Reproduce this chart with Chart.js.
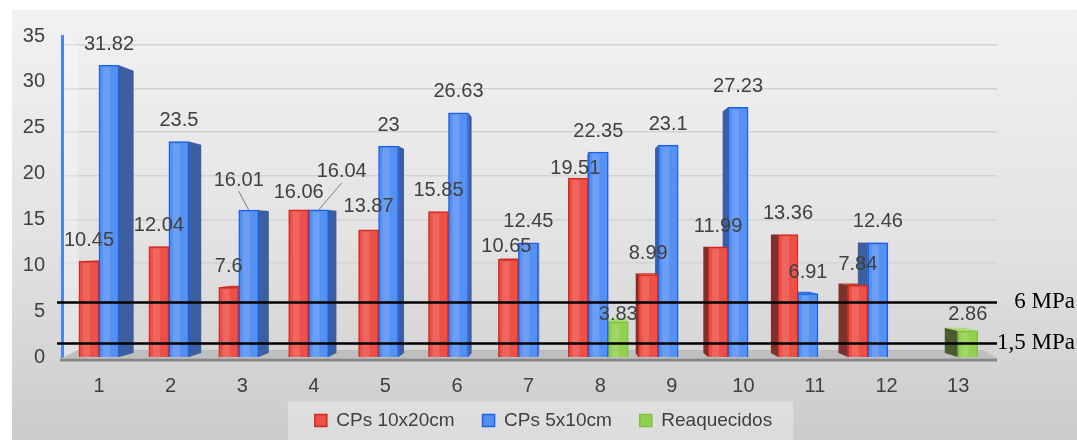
<!DOCTYPE html>
<html>
<head>
<meta charset="utf-8">
<script src="https://cdn.jsdelivr.net/npm/chart.js@4.4.1/dist/chart.umd.min.js"></script>
<style>
  html, body { margin: 0; padding: 0; background: #ffffff; }
  canvas { display: block; }
</style>
</head>
<body>
<canvas id="chart" width="1077" height="440"></canvas>
<script>
// ---- data -------------------------------------------------------------
const categories = [1, 2, 3, 4, 5, 6, 7, 8, 9, 10, 11, 12, 13];
const cps10x20 = [10.45, 12.04, 7.6, 16.06, 13.87, 15.85, 10.65, 19.51, 8.99, 11.99, 13.36, 7.84, null];
const cps5x10 = [31.82, 23.5, 16.01, 16.04, 23, 26.63, 12.45, 22.35, 23.1, 27.23, 6.91, 12.46, null];
const reaquecidos = [null, null, null, null, null, null, null, 3.83, null, null, null, null, 2.86];
const seriesNames = ['CPs 10x20cm', 'CPs 5x10cm', 'Reaquecidos'];
const yTicks = [0, 5, 10, 15, 20, 25, 30, 35];
const limitValues = [6, 1.5];
const limitLabels = ['6 MPa', '1,5 MPa'];

// ---- look & layout ------------------------------------------------------
const FONT = '"Liberation Sans", Arial, sans-serif';
const SERIF = '"Liberation Serif", "Times New Roman", serif';
const TEXT = '#404040';
const FRONT = ['#ec5046', '#5590f3', '#92d050'];
const EDGE = ['#cf2b20', '#1c60e8', '#80c040'];
const SIDE = ['#7e302b', '#3d5f9f', '#4b5c33'];
const TOP = ['#c93a30', '#3070dd', '#a9db6e'];

// bars sit on the back of the box, the category numbers on its front edge
const barAxisRange = { min: 0.328, max: 13.704 };
const tickAxisRange = { min: 0.483, max: 13.542 };
// back wall used by the grid lines and the floor
const wallRange = { min: -0.80, max: 36.03 };
// perspective: vanishing point (category, value) and bar depth
const eye = { cat: 7.5, value: 13, depth: 0.033 };

// small moves for labels that would collide
const labelNudge = {
  '0-3': { dy: 4 },
  '0-4': { dy: -2 },
  '1-2': { dx: -10, dy: -9, leader: true },
  '1-3': { dx: 23, dy: -17, leader: true },
  '0-6': { dx: -2, dy: 8 },
  '0-7': { dx: -3, dy: 11 },
  '2-7': { dy: 14 },
  '2-12': { dy: 5 }
};

Chart.defaults.font.family = FONT;
Chart.defaults.color = TEXT;

function eachBar(chart, fn) {
  chart.data.datasets.forEach((ds, di) => {
    const meta = chart.getDatasetMeta(di);
    if (meta.hidden) return;
    meta.data.forEach((bar, i) => {
      if (ds.data[i] === null || ds.data[i] === undefined) return;
      const p = bar.getProps(['x', 'y', 'base', 'width'], true);
      fn(p, di, i, ds.data[i]);
    });
  });
}

const scene3d = {
  id: 'scene3d',
  beforeDraw(chart) {
    const { ctx, width, height } = chart;
    ctx.save();
    ctx.fillStyle = '#ffffff';
    ctx.fillRect(0, 0, width, height);
    const g = ctx.createLinearGradient(0, 10, 0, height);
    g.addColorStop(0, '#f2f2f2');
    g.addColorStop(0.55, '#e2e2e2');
    g.addColorStop(1, '#cbcbcb');
    ctx.fillStyle = g;
    ctx.fillRect(12, 10, width - 12, height - 10);

    // legend panel
    const hb = chart.legend && chart.legend.legendHitBoxes;
    if (hb && hb.length) {
      const last = hb[hb.length - 1];
      const l = hb[0].left - 27;
      const r = last.left + last.width + 21;
      const t = hb[0].top + hb[0].height / 2 - 19;
      ctx.fillStyle = 'rgba(255,255,255,0.32)';
      ctx.fillRect(l, t, r - l, height - t);
    }
    ctx.restore();
  },
  beforeDatasetsDraw(chart) {
    const { ctx, chartArea: ca, scales } = chart;
    const vx = scales.x.getPixelForValue(eye.cat);
    const vy = scales.y.getPixelForValue(eye.value);
    const k = eye.depth;
    const bx = (px) => px + (vx - px) * k;
    const by = (py) => py + (vy - py) * k;
    const y0 = scales.y.getPixelForValue(0);
    const w0 = scales.y2.getPixelForValue(0);
    const wTop = scales.y2.getPixelForValue(35);

    ctx.save();
    // left wall
    ctx.fillStyle = 'rgba(255,255,255,0.30)';
    ctx.beginPath();
    ctx.moveTo(ca.left + 2, ca.top);
    ctx.lineTo(ca.left + 16, wTop);
    ctx.lineTo(ca.left + 16, w0);
    ctx.lineTo(ca.left + 2, y0);
    ctx.closePath();
    ctx.fill();

    // floor
    ctx.fillStyle = '#bfbfbf';
    ctx.beginPath();
    ctx.moveTo(ca.left, y0 + 1);
    ctx.lineTo(ca.right, y0 + 1);
    ctx.lineTo(ca.right - 14, w0);
    ctx.lineTo(ca.left + 16, w0);
    ctx.closePath();
    ctx.fill();
    ctx.strokeStyle = '#878787';
    ctx.lineWidth = 3;
    ctx.beginPath();
    ctx.moveTo(ca.left - 2, y0 + 3);
    ctx.lineTo(ca.right, y0 + 3);
    ctx.stroke();

    // receding side and top faces of every bar
    eachBar(chart, (p, di) => {
      const xl = p.x - p.width / 2, xr = p.x + p.width / 2;
      const yt = p.y, yb = p.base;
      let xe = null;
      if (xr < vx) xe = xr; else if (xl > vx) xe = xl;
      if (xe !== null) {
        ctx.fillStyle = SIDE[di];
        ctx.beginPath();
        ctx.moveTo(xe, yt);
        ctx.lineTo(bx(xe), by(yt));
        ctx.lineTo(bx(xe), by(yb));
        ctx.lineTo(xe, yb);
        ctx.closePath();
        ctx.fill();
      }
      if (yt > vy) {
        ctx.fillStyle = TOP[di];
        ctx.beginPath();
        ctx.moveTo(xl, yt);
        ctx.lineTo(xr, yt);
        ctx.lineTo(bx(xr), by(yt));
        ctx.lineTo(bx(xl), by(yt));
        ctx.closePath();
        ctx.fill();
      }
    });
    ctx.restore();
  },
  afterDatasetsDraw(chart) {
    const { ctx, chartArea: ca, scales } = chart;
    ctx.save();

    // soft highlight on the bar fronts
    eachBar(chart, (p) => {
      const xl = p.x - p.width / 2;
      ctx.fillStyle = 'rgba(255,255,255,0.13)';
      ctx.fillRect(xl + 4, p.y + 2, 7, p.base - p.y - 2);
    });

    // limit lines
    ctx.strokeStyle = '#000000';
    ctx.lineWidth = 2.5;
    limitValues.forEach((v) => {
      const yy = Math.round(scales.y.getPixelForValue(v)) + 0.5;
      ctx.beginPath();
      ctx.moveTo(ca.left - 5, yy);
      ctx.lineTo(ca.right, yy);
      ctx.stroke();
    });

    // value labels
    ctx.font = '20px ' + FONT;
    ctx.textAlign = 'center';
    ctx.textBaseline = 'middle';
    eachBar(chart, (p, di, i, v) => {
      const n = labelNudge[di + '-' + i] || {};
      const lx = p.x + (n.dx || 0);
      const ly = p.y - 21 + (n.dy || 0);
      if (n.leader) {
        ctx.strokeStyle = '#7f7f7f';
        ctx.lineWidth = 1;
        ctx.beginPath();
        ctx.moveTo(p.x, p.y);
        ctx.lineTo(lx, ly + 11);
        ctx.stroke();
      }
      ctx.fillStyle = TEXT;
      ctx.fillText(String(v), lx, ly);
    });
    ctx.restore();
  }
};

const series = [cps10x20, cps5x10, reaquecidos];

new Chart(document.getElementById('chart'), {
  type: 'bar',
  data: {
    labels: categories,
    datasets: series.map((d, i) => ({
      label: seriesNames[i],
      data: d,
      backgroundColor: FRONT[i],
      borderColor: EDGE[i],
      borderWidth: 1.5
    }))
  },
  options: {
    responsive: false,
    animation: false,
    events: [],
    layout: { padding: { left: 12, right: 2, top: 36, bottom: 0 } },
    datasets: { bar: { barThickness: 20 } },
    plugins: {
      legend: {
        position: 'bottom',
        labels: {
          boxWidth: 12,
          boxHeight: 12,
          padding: 28,
          color: TEXT,
          font: { size: 19, family: FONT }
        }
      },
      tooltip: { enabled: false }
    },
    scales: {
      x: {
        type: 'linear',
        display: false,
        offset: false,
        min: barAxisRange.min,
        max: barAxisRange.max
      },
      xl: {
        type: 'linear',
        position: 'bottom',
        offset: false,
        min: tickAxisRange.min,
        max: tickAxisRange.max,
        afterBuildTicks: (s) => { s.ticks = categories.map((v) => ({ value: v })); },
        // mirrored (unclipped) labels pushed back down below the floor edge
        ticks: { color: TEXT, font: { size: 20 }, padding: -41, mirror: true },
        grid: { display: false, drawTicks: false },
        border: { display: false },
        afterFit: (s) => { s.height = 26; }
      },
      y: {
        type: 'linear',
        position: 'left',
        min: 0,
        max: 35,
        afterBuildTicks: (s) => { s.ticks = yTicks.map((v) => ({ value: v })); },
        ticks: { color: TEXT, font: { size: 20 }, padding: 17 },
        grid: { display: false, drawTicks: false },
        border: { display: true, color: '#4a86ec', width: 3 },
        afterFit: (s) => { s.width = 50; }
      },
      y2: {
        type: 'linear',
        position: 'left',
        min: wallRange.min,
        max: wallRange.max,
        afterBuildTicks: (s) => { s.ticks = yTicks.map((v) => ({ value: v })); },
        ticks: { display: false },
        grid: { color: '#d3d3d3', lineWidth: 1.5, drawTicks: false },
        border: { display: false },
        afterFit: (s) => { s.width = 0; }
      },
      yR: {
        type: 'linear',
        position: 'right',
        min: 0,
        max: 35,
        afterBuildTicks: (s) => { s.ticks = limitValues.map((v) => ({ value: v })); },
        ticks: {
          callback: (v) => limitLabels[limitValues.indexOf(v)],
          color: '#000000',
          font: { family: SERIF, size: 23 },
          padding: 0,
          crossAlign: 'far'
        },
        grid: { display: false, drawTicks: false },
        border: { display: false },
        afterFit: (s) => { s.width = 78; }
      }
    }
  },
  plugins: [scene3d]
});
</script>
</body>
</html>
